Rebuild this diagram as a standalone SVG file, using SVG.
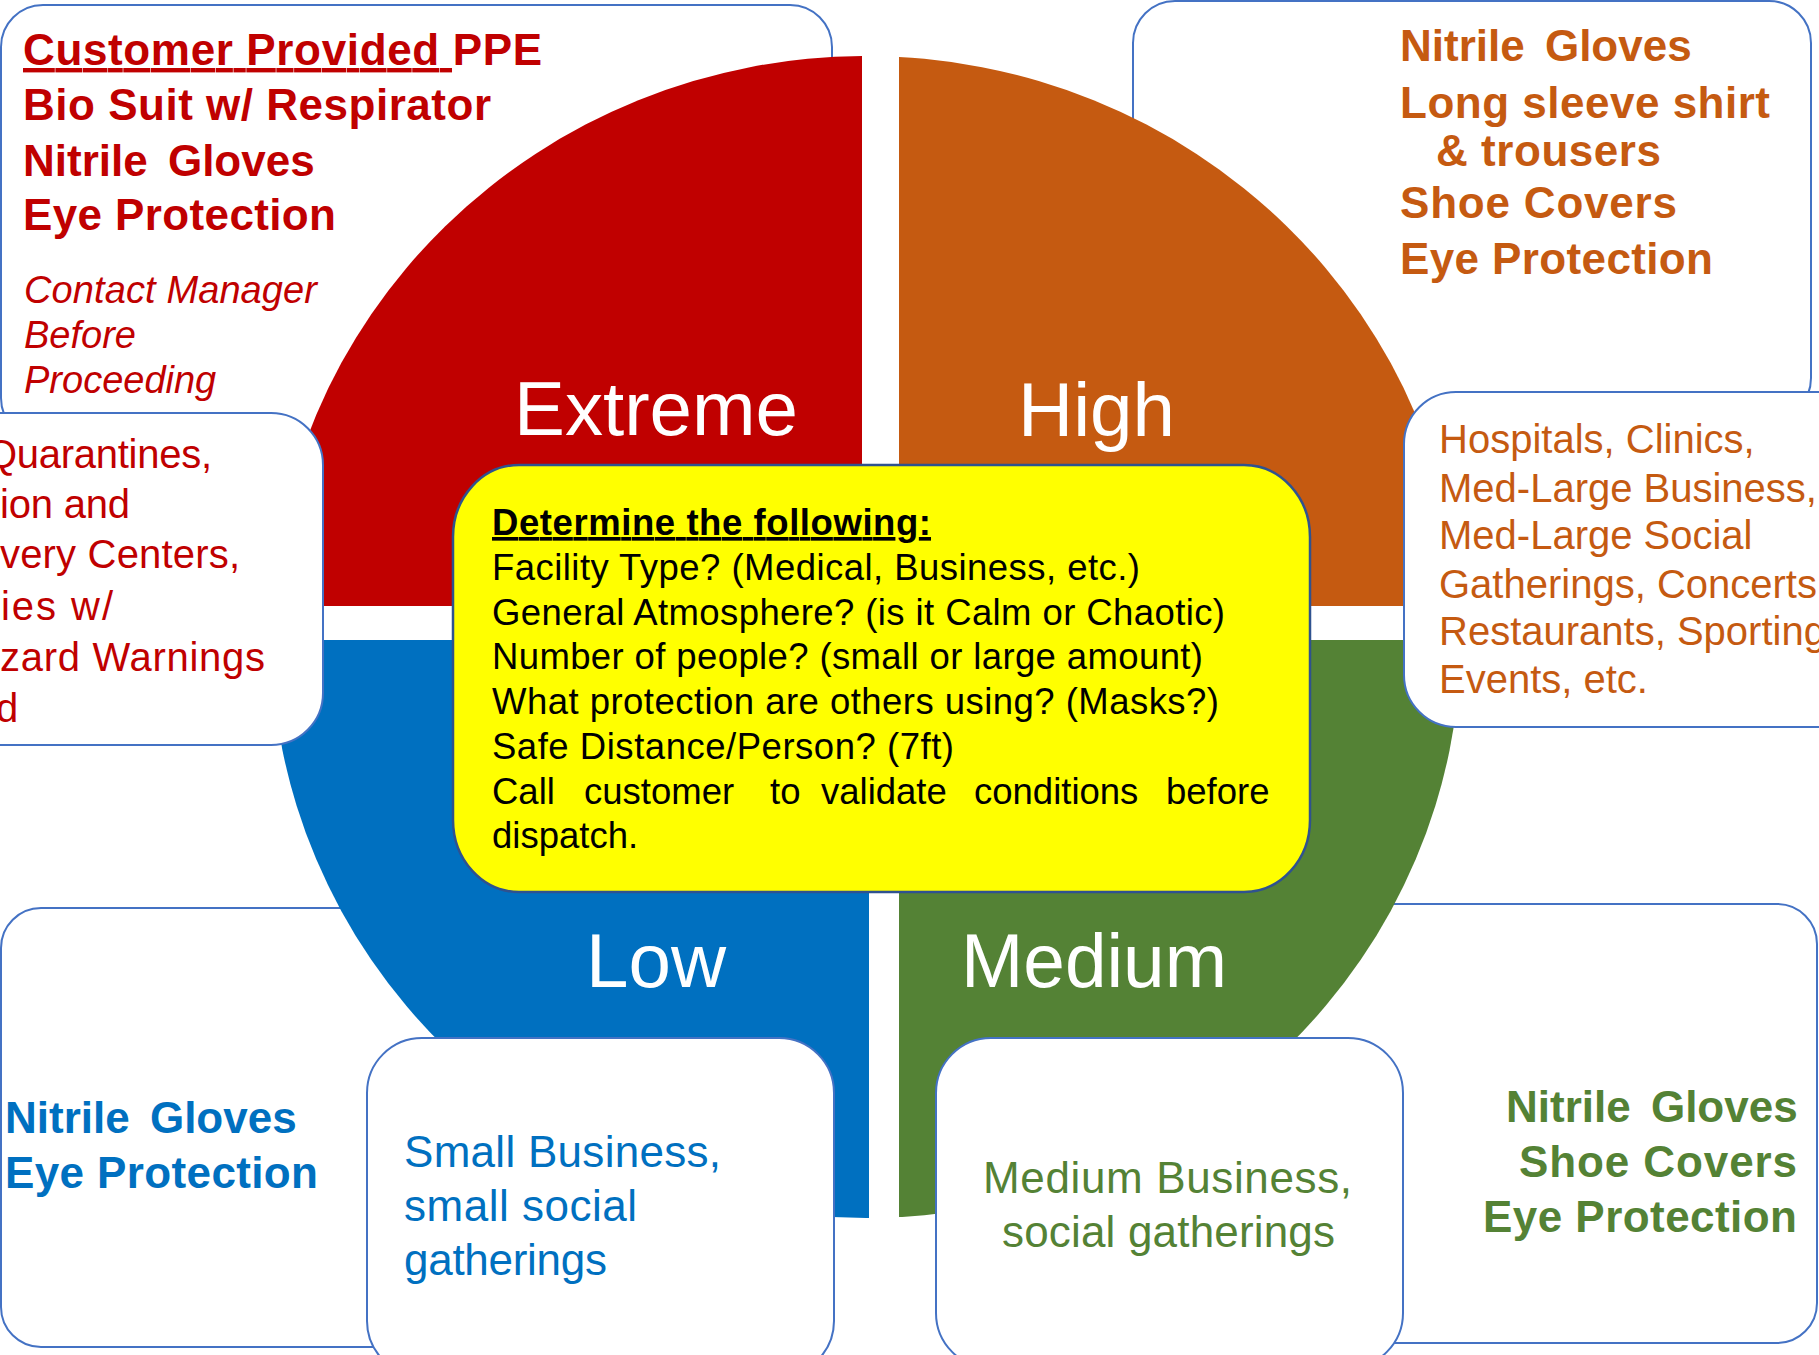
<svg xmlns="http://www.w3.org/2000/svg" width="1819" height="1355" viewBox="0 0 1819 1355">
<style>
.box{fill:#FFFFFF;stroke:#4472C4;stroke-width:2}
.t{font-family:"Liberation Sans",Arial,Helvetica,sans-serif}
.b{font-weight:bold;font-size:44px}
.r40{font-size:40px}
.r44{font-size:44px}
.it{font-style:italic;font-size:38px}
.lab{font-size:76px;fill:#FFFFFF}
.q{font-size:36.5px;fill:#000000}
.cr{fill:#C00000}
.co{fill:#C55A11}
.cb{fill:#0070C0}
.cg{fill:#548235}
</style>
<defs>
<clipPath id="clipRed"><rect x="0" y="0" width="862" height="606"/></clipPath>
<clipPath id="clipOrange"><rect x="899" y="0" width="920" height="606"/></clipPath>
<clipPath id="clipBlue"><rect x="0" y="640" width="869" height="715"/></clipPath>
<clipPath id="clipGreen"><rect x="899" y="640" width="920" height="715"/></clipPath>
</defs>
<rect width="1819" height="1355" fill="#FFFFFF"/>

<!-- back boxes -->
<g id="box-extreme-ppe">
<rect class="box" x="1" y="5" width="831" height="435" rx="42" ry="42"/>
<text class="t b cr" x="23" y="65" textLength="519" lengthAdjust="spacing"><tspan text-decoration="underline">Customer Provided </tspan>PPE</text>
<text class="t b cr" x="23" y="120" textLength="468" lengthAdjust="spacing">Bio Suit w/ Respirator</text>
<text class="t b cr" x="23" y="176" word-spacing="8">Nitrile Gloves</text>
<text class="t b cr" x="23" y="230" textLength="313" lengthAdjust="spacing">Eye Protection</text>
<text class="t it cr" x="24" y="303" textLength="293" lengthAdjust="spacing">Contact Manager</text>
<text class="t it cr" x="24" y="348">Before</text>
<text class="t it cr" x="24" y="393">Proceeding</text>
</g>
<g id="box-high-ppe">
<rect class="box" x="1133" y="1" width="678" height="419" rx="42" ry="42"/>
<text class="t b co" x="1400" y="61" word-spacing="8">Nitrile Gloves</text>
<text class="t b co" x="1400" y="118" textLength="370" lengthAdjust="spacing">Long sleeve shirt</text>
<text class="t b co" x="1436" y="166" textLength="225" lengthAdjust="spacing">&amp; trousers</text>
<text class="t b co" x="1400" y="218" textLength="277" lengthAdjust="spacing">Shoe Covers</text>
<text class="t b co" x="1400" y="274" textLength="313" lengthAdjust="spacing">Eye Protection</text>
</g>
<g id="box-low-ppe">
<rect class="box" x="1" y="908" width="600" height="439" rx="40" ry="40"/>
<text class="t b cb" x="5" y="1133" word-spacing="8">Nitrile Gloves</text>
<text class="t b cb" x="5" y="1188" textLength="313" lengthAdjust="spacing">Eye Protection</text>
</g>
<g id="box-medium-ppe">
<rect class="box" x="1150" y="904" width="667" height="439" rx="40" ry="40"/>
<text class="t b cg" x="1506" y="1122" word-spacing="8">Nitrile Gloves</text>
<text class="t b cg" x="1519" y="1177" textLength="278" lengthAdjust="spacing">Shoe Covers</text>
<text class="t b cg" x="1483" y="1232" textLength="314" lengthAdjust="spacing">Eye Protection</text>
</g>

<!-- quadrants -->
<g id="quadrant-extreme">
<ellipse cx="866" cy="637" rx="595" ry="581" fill="#C00000" clip-path="url(#clipRed)"/>
</g>
<g id="quadrant-high">
<ellipse cx="866" cy="637" rx="595" ry="581" fill="#C55A11" clip-path="url(#clipOrange)"/>
</g>
<g id="quadrant-low">
<ellipse cx="866" cy="637" rx="595" ry="581" fill="#0070C0" clip-path="url(#clipBlue)"/>
</g>
<g id="quadrant-medium">
<ellipse cx="866" cy="637" rx="595" ry="581" fill="#548235" clip-path="url(#clipGreen)"/>
</g>

<!-- front boxes -->
<g id="box-extreme-places">
<rect class="box" x="-200" y="413" width="523" height="332" rx="52" ry="52"/>
<text class="t r40 cr" x="-14" y="468" textLength="226" lengthAdjust="spacing">Quarantines,</text>
<text class="t r40 cr" x="0" y="518" textLength="130" lengthAdjust="spacing">ion and</text>
<text class="t r40 cr" x="0" y="568" textLength="240" lengthAdjust="spacing">very Centers,</text>
<text class="t r40 cr" x="1" y="620" textLength="112" lengthAdjust="spacing">ies w/</text>
<text class="t r40 cr" x="0" y="671" textLength="265" lengthAdjust="spacing">zard Warnings</text>
<text class="t r40 cr" x="-4" y="722">d</text>
</g>
<g id="box-high-places">
<rect class="box" x="1404" y="392" width="600" height="335" rx="52" ry="52"/>
<text class="t r40 co" x="1439" y="453">Hospitals, Clinics,</text>
<text class="t r40 co" x="1439" y="502">Med-Large Business,</text>
<text class="t r40 co" x="1439" y="549">Med-Large Social</text>
<text class="t r40 co" x="1439" y="598">Gatherings, Concerts</text>
<text class="t r40 co" x="1439" y="645">Restaurants, Sporting</text>
<text class="t r40 co" x="1439" y="693">Events, etc.</text>
</g>
<g id="box-low-places">
<rect class="box" x="367" y="1038" width="467" height="338" rx="55" ry="55"/>
<text class="t r44 cb" x="404" y="1167" textLength="317" lengthAdjust="spacing">Small Business,</text>
<text class="t r44 cb" x="404" y="1221" textLength="233" lengthAdjust="spacing">small social</text>
<text class="t r44 cb" x="404" y="1275" textLength="203" lengthAdjust="spacing">gatherings</text>
</g>
<g id="box-medium-places">
<rect class="box" x="936" y="1038" width="467" height="330" rx="55" ry="55"/>
<text class="t r44 cg" x="983" y="1193" textLength="369" lengthAdjust="spacing">Medium Business,</text>
<text class="t r44 cg" x="1002" y="1247" textLength="333" lengthAdjust="spacing">social gatherings</text>
</g>

<!-- center box -->
<g id="box-determine">
<rect x="453" y="465" width="857" height="427" rx="66" ry="72" fill="#FFFF00" stroke="#2F528F" stroke-width="2.5"/>
<text class="t q" x="492" y="535" font-weight="bold" text-decoration="underline" textLength="439" lengthAdjust="spacing">Determine the following:</text>
<text class="t q" x="492" y="580" textLength="648" lengthAdjust="spacing">Facility Type? (Medical, Business, etc.)</text>
<text class="t q" x="492" y="625" textLength="733" lengthAdjust="spacing">General Atmosphere? (is it Calm or Chaotic)</text>
<text class="t q" x="492" y="669" textLength="711" lengthAdjust="spacing">Number of people? (small or large amount)</text>
<text class="t q" x="492" y="714" textLength="727" lengthAdjust="spacing">What protection are others using? (Masks?)</text>
<text class="t q" x="492" y="759" textLength="462" lengthAdjust="spacing">Safe Distance/Person? (7ft)</text>
<text class="t q" y="804"><tspan x="492">Call</tspan> <tspan x="584">customer</tspan> <tspan x="770">to</tspan> <tspan x="821">validate</tspan> <tspan x="974">conditions</tspan> <tspan x="1166">before</tspan></text>
<text class="t q" x="492" y="848">dispatch.</text>
</g>

<!-- labels -->
<g id="label-extreme"><text class="t lab" x="514" y="435" textLength="284" lengthAdjust="spacingAndGlyphs">Extreme</text></g>
<g id="label-high"><text class="t lab" x="1018" y="436" textLength="157" lengthAdjust="spacingAndGlyphs">High</text></g>
<g id="label-low"><text class="t lab" x="586" y="987" textLength="140" lengthAdjust="spacingAndGlyphs">Low</text></g>
<g id="label-medium"><text class="t lab" x="961" y="987" textLength="266" lengthAdjust="spacingAndGlyphs">Medium</text></g>

<g id="connectors"></g>
</svg>
